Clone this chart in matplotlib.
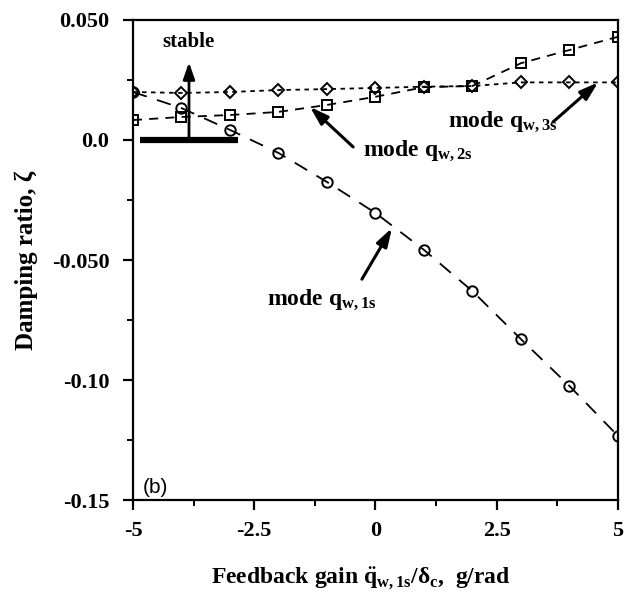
import matplotlib
matplotlib.use("Agg")
import matplotlib.pyplot as plt
from matplotlib.ticker import MultipleLocator

plt.rcParams['font.family'] = ['Liberation Serif', 'DejaVu Serif']
plt.rcParams['font.weight'] = 'bold'
plt.rcParams['axes.labelweight'] = 'bold'
plt.rcParams['mathtext.fontset'] = 'custom'
plt.rcParams['mathtext.rm'] = 'Liberation Serif:bold'
plt.rcParams['mathtext.it'] = 'Liberation Serif:italic:bold'
plt.rcParams['mathtext.bf'] = 'Liberation Serif:bold'

# Feedback gain values (g/rad)
gain = [-5, -4, -3, -2, -1, 0, 1, 2, 3, 4, 5]

# Damping ratio for each structural mode
zeta_1s = [0.020, 0.0133, 0.0042, -0.0054, -0.0175, -0.0304, -0.0458, -0.063, -0.083, -0.1025, -0.1233]
zeta_2s = [0.0083, 0.0096, 0.0104, 0.0117, 0.0146, 0.018, 0.022, 0.0225, 0.032, 0.0375, 0.043]
zeta_3s = [0.020, 0.0196, 0.020, 0.0208, 0.0212, 0.0217, 0.0222, 0.0225, 0.024, 0.024, 0.024]

y_ticks = [0.050, 0.0, -0.050, -0.10, -0.15]
y_tick_labels = ['0.050', '0.0', '-0.050', '-0.10', '-0.15']
x_ticks = [-5, -2.5, 0, 2.5, 5]
x_tick_labels = ['-5', '-2.5', '0', '2.5', '5']

fig = plt.figure(figsize=(6.35, 5.93), dpi=100)
ax = fig.add_axes([0.2094, 0.1568, 0.7638, 0.8095])

ax.plot(gain, zeta_1s, color='black', lw=1.3, dashes=(8, 6),
        marker='o', ms=7.5, mfc='none', mec='black', mew=1.4)
ax.plot(gain, zeta_2s, color='black', lw=1.3, dashes=(5, 4),
        marker='s', ms=7, mfc='none', mec='black', mew=1.4)
ax.plot(gain, zeta_3s, color='black', lw=1.3, dashes=(2.5, 2.5),
        marker='D', ms=6.5, mfc='none', mec='black', mew=1.4)

ax.set_xlim(-5, 5)
ax.set_ylim(-0.15, 0.05)
ax.set_xticks(x_ticks)
ax.set_xticklabels(x_tick_labels)
ax.set_yticks(y_ticks)
ax.set_yticklabels(y_tick_labels)
ax.xaxis.set_minor_locator(MultipleLocator(1.25))
ax.yaxis.set_minor_locator(MultipleLocator(0.025))
ax.tick_params(axis='both', which='major', direction='out', length=7, width=1.6,
               labelsize=16)
ax.tick_params(axis='y', which='major', pad=10)
ax.tick_params(axis='x', which='major', pad=8)
ax.tick_params(axis='both', which='minor', direction='out', length=4, width=1.4)
for s in ax.spines.values():
    s.set_linewidth(1.6)

ax.set_ylabel('Damping ratio, ζ', fontsize=18, labelpad=10)
ax.set_xlabel(r'Feedback gain $\ddot{\rm q}_{\rm w,1s}/\mathrm{δ}_{\rm c}$,  g/rad',
              fontsize=17)
ax.xaxis.set_label_coords(0.47, -0.135)

# stability boundary and direction marker
ax.plot([-4.86, -2.835], [0.0, 0.0], color='black', lw=4.5, solid_capstyle='butt')
ax.annotate('', xy=(-3.845, 0.0335), xytext=(-3.845, 0.0),
            arrowprops=dict(arrowstyle='-|>,head_length=1.0,head_width=0.35',
                            color='black', lw=2))
ax.text(-3.85, 0.0408, 'stable', fontsize=15, ha='center', va='center')

arrow = dict(arrowstyle='-|>,head_length=1.1,head_width=0.35', color='black', lw=2.2,
             shrinkA=0, shrinkB=0)
ax.annotate('', xy=(-1.35, 0.0138), xytext=(-0.46, -0.0029), arrowprops=arrow)
ax.text(-0.26, -0.0045, r'mode q$_{\rm w,2s}$', fontsize=17, ha='left', va='center')

ax.annotate('', xy=(4.59, 0.024), xytext=(3.66, 0.0075), arrowprops=arrow)
ax.text(1.5, 0.0075, r'mode q$_{\rm w,3s}$', fontsize=17, ha='left', va='center')

ax.annotate('', xy=(0.34, -0.0367), xytext=(-0.28, -0.058), arrowprops=arrow)
ax.text(-2.24, -0.0665, r'mode q$_{\rm w,1s}$', fontsize=17, ha='left', va='center')

ax.text(-4.79, -0.1446, '(b)', fontsize=15, ha='left', va='center',
        family=['Liberation Sans', 'DejaVu Sans'], fontweight='normal')

fig.savefig('out.png', dpi=100)
